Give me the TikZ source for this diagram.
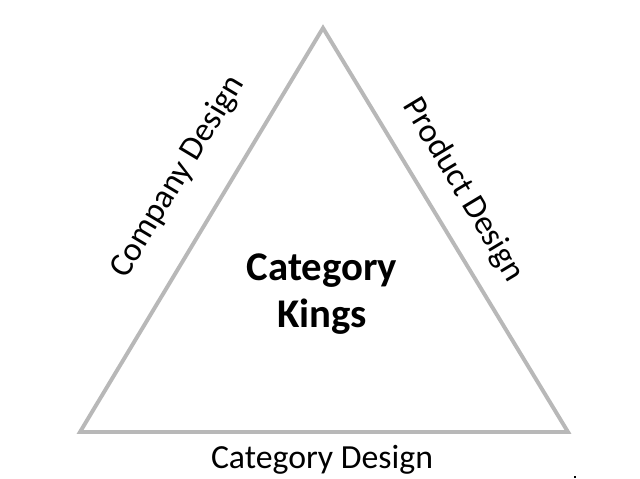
\documentclass[tikz,border=0pt]{standalone}
\usepackage{fontspec}
\setmainfont{Carlito}
\usetikzlibrary{positioning}

\begin{document}
\begin{tikzpicture}[x=0.025cm,y=-0.025cm,
    edge/.style={draw=black!28,line width=2.8pt,line join=miter},
    side/.style={font=\fontsize{24}{28}\selectfont,inner sep=0pt}]
    \useasboundingbox (0,0) rectangle (640,479);
    \coordinate (apex) at (323,28);
    \coordinate (left) at (80,432);
    \coordinate (right) at (568,432);
    \draw[edge] (left) -- (apex) -- (right) -- cycle;
    \node[font=\fontsize{29}{33}\selectfont\bfseries,align=center] (kings) at (322,294) {Category\\Kings};
    \node[side,rotate=59] (company) at (178,177) {Company Design};
    \node[side,rotate=-59] (product) at (463,190) {Product Design};
    \node[side] (category) at (322,460) {Category Design};
    \fill (574,476) rectangle (576,478);
  \end{tikzpicture}
\end{document}
